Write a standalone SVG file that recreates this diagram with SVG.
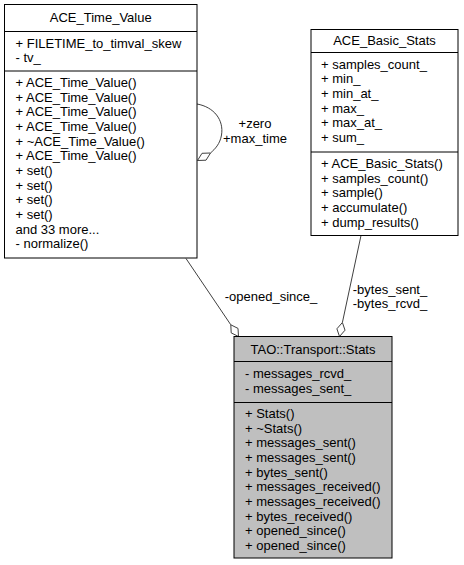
<svg xmlns="http://www.w3.org/2000/svg" width="464" height="565" viewBox="0 0 464 565">
<style>
text{font-family:"Liberation Sans",Arial,sans-serif;font-size:13px;fill:#000}
.t{text-anchor:middle}
.box{fill:#fff;stroke:#000;stroke-width:1}
.cur{fill:#bfbfbf;stroke:#000;stroke-width:1}
.sep{stroke:#000;stroke-width:1}
.edge{fill:none;stroke:#404040;stroke-width:1}
.dia{fill:#fff;stroke:#404040;stroke-width:1}
</style>
<rect width="464" height="565" fill="#fff"/>
<g id="connectors">
<path class="edge" d="M197,104 C214,107 224,120 221.5,135 C220,144 215,149 210.5,153"/>
<polygon class="dia" points="197.5,160.5 202,153.3 210.5,153 206,160.2"/>
<text class="t" x="255" y="127.5">+zero</text>
<text class="t" x="255" y="142.5">+max_time</text>
<path class="edge" d="M186,258.5 L230.8,324.8"/>
<polygon class="dia" points="238.5,336.5 231.2,332.9 230.8,324.8 238,328.4"/>
<text class="t" x="271" y="301">-opened_since_</text>
<path class="edge" d="M361,235.5 L342.4,322.5"/>
<polygon class="dia" points="339.5,336.5 336.9,328.8 342.4,322.5 345,330.2"/>
<text class="t" x="390" y="293.5">-bytes_sent_</text>
<text class="t" x="390" y="308">-bytes_rcvd_</text>
</g>
<g id="ACE_Time_Value">
<rect class="box" x="4.5" y="4.5" width="192.5" height="253.5"/>
<line class="sep" x1="4.5" y1="31.5" x2="197" y2="31.5"/>
<line class="sep" x1="4.5" y1="71" x2="197" y2="71"/>
<text class="t" x="100.75" y="22">ACE_Time_Value</text>
<text x="15.5" y="47.5">+ FILETIME_to_timval_skew</text>
<text x="15.5" y="62">- tv_</text>
<text x="15.5" y="87">+ ACE_Time_Value()</text>
<text x="15.5" y="101.7">+ ACE_Time_Value()</text>
<text x="15.5" y="116.3">+ ACE_Time_Value()</text>
<text x="15.5" y="131">+ ACE_Time_Value()</text>
<text x="15.5" y="145.7">+ ~ACE_Time_Value()</text>
<text x="15.5" y="160.3">+ ACE_Time_Value()</text>
<text x="15.5" y="175">+ set()</text>
<text x="15.5" y="189.7">+ set()</text>
<text x="15.5" y="204.3">+ set()</text>
<text x="15.5" y="219">+ set()</text>
<text x="15.5" y="233.7">and 33 more...</text>
<text x="15.5" y="248.3">- normalize()</text>
</g>
<g id="ACE_Basic_Stats">
<rect class="box" x="311" y="29.5" width="147" height="206"/>
<line class="sep" x1="311" y1="52.5" x2="458" y2="52.5"/>
<line class="sep" x1="311" y1="152" x2="458" y2="152"/>
<text class="t" x="384.5" y="45">ACE_Basic_Stats</text>
<text x="321" y="68.5">+ samples_count_</text>
<text x="321" y="83.2">+ min_</text>
<text x="321" y="97.8">+ min_at_</text>
<text x="321" y="112.5">+ max_</text>
<text x="321" y="127.2">+ max_at_</text>
<text x="321" y="141.8">+ sum_</text>
<text x="321" y="168">+ ACE_Basic_Stats()</text>
<text x="321" y="182.7">+ samples_count()</text>
<text x="321" y="197.3">+ sample()</text>
<text x="321" y="212">+ accumulate()</text>
<text x="321" y="226.7">+ dump_results()</text>
</g>
<g id="TAO_Transport_Stats">
<rect class="cur" x="234" y="336.5" width="158" height="221.5"/>
<line class="sep" x1="234" y1="361.5" x2="392" y2="361.5"/>
<line class="sep" x1="234" y1="402.5" x2="392" y2="402.5"/>
<text class="t" x="313" y="354">TAO::Transport::Stats</text>
<text x="245" y="378">- messages_rcvd_</text>
<text x="245" y="392.7">- messages_sent_</text>
<text x="245" y="418">+ Stats()</text>
<text x="245" y="432.7">+ ~Stats()</text>
<text x="245" y="447.3">+ messages_sent()</text>
<text x="245" y="462">+ messages_sent()</text>
<text x="245" y="476.7">+ bytes_sent()</text>
<text x="245" y="491.3">+ messages_received()</text>
<text x="245" y="506">+ messages_received()</text>
<text x="245" y="520.7">+ bytes_received()</text>
<text x="245" y="535.3">+ opened_since()</text>
<text x="245" y="550">+ opened_since()</text>
</g>
</svg>
